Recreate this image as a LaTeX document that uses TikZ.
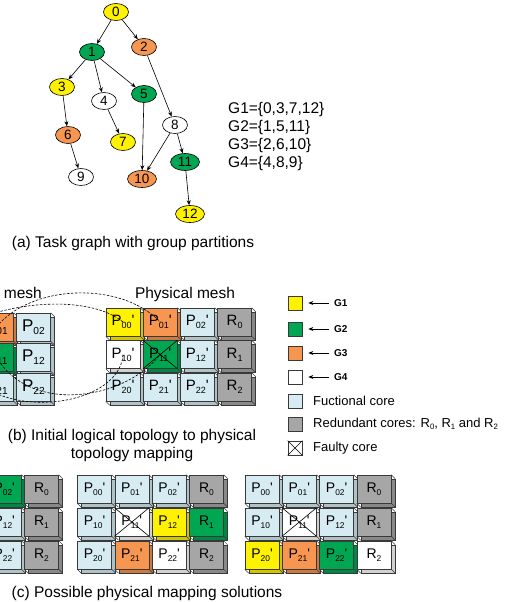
\documentclass[tikz,border=0pt]{standalone}
\usepackage{fontspec}
\setmainfont{Liberation Sans}
\usepackage{graphicx}
\usetikzlibrary{shapes.geometric,arrows.meta}

\definecolor{cyellow}{RGB}{255,242,0}
\definecolor{cgreen}{RGB}{0,166,81}
\definecolor{corange}{RGB}{247,150,80}
\definecolor{cblue}{RGB}{214,236,242}
\definecolor{cgray}{RGB}{166,166,166}

% small lowered index, as in P_00
\newcommand{\lsub}[1]{\raisebox{-0.35ex}{\scalebox{0.6}{#1}}}
% one core block: [text style]{name}{x}{y}{fill}{label}
\newcommand{\core}[6][]{%
  \node[coreback, fill=#5!82!black] (#2-b) at (#3+4,#4+4) {};
  \draw[coreedge] (#2-b.north east) -- ++(-4,-4)
                  (#2-b.south east) -- ++(-4,-4)
                  (#2-b.south west) -- ++(-4,-4);
  \node[corebox, fill=#5, #1] (#2) at (#3,#4) {#6};}
\newcommand{\faulty}[1]{%
  \draw[crossline] (#1.north west) -- (#1.south east)
                   (#1.north east) -- (#1.south west);}

\begin{document}
\begin{tikzpicture}[x=1pt, y=-1pt, >={Stealth[length=5pt,width=4pt]},
    task/.style={ellipse, draw, line width=0.6pt, minimum width=25pt,
      minimum height=17pt, inner sep=0pt, font=\fontsize{13.5}{13.5}\selectfont},
    twowide/.style={minimum width=29pt},
    corebox/.style={rectangle, draw=gray!45!black, line width=0.5pt,
      minimum width=34pt, minimum height=28pt, inner sep=0pt},
    coreback/.style={corebox},
    coreedge/.style={draw=gray!45!black, line width=0.5pt},
    crossline/.style={line width=0.6pt},
    logtext/.style={font=\fontsize{17}{17}\selectfont},
    phytext/.style={font=\fontsize{15}{15}\selectfont},
    soltext/.style={font=\fontsize{14}{14}\selectfont},
    mapline/.style={dashed, line width=0.6pt, dash pattern=on 2.5pt off 1.5pt},
    legbox/.style={rectangle, draw=gray!45!black, line width=0.6pt,
      minimum size=14pt, inner sep=0pt},
    keylabel/.style={anchor=west, inner sep=1pt, font=\fontsize{10}{10}\selectfont\bfseries},
    keyarrow/.style={->, line width=0.6pt, shorten <=4pt, shorten >=6pt},
    legtext/.style={anchor=west, inner sep=2pt, font=\fontsize{13}{13}\selectfont},
    captext/.style={align=center, font=\fontsize{15.5}{18}\selectfont}]

  \useasboundingbox (0,0) rectangle (504,602);
  \clip (0,0) rectangle (504,602);

  %===== a) Task graph =====%
  \node[task, fill=cyellow] (t0) at (116,12) {0};
  \node[task, fill=cgreen] (t1) at (92,52) {1};
  \node[task, fill=corange] (t2) at (144,47) {2};
  \node[task, fill=cyellow] (t3) at (62,87) {3};
  \node[task, fill=white] (t4) at (104,101) {4};
  \node[task, fill=cgreen] (t5) at (144,94) {5};
  \node[task, fill=corange] (t6) at (68,135) {6};
  \node[task, fill=cyellow] (t7) at (123,142) {7};
  \node[task, fill=white] (t8) at (175,125) {8};
  \node[task, fill=white] (t9) at (81,177) {9};
  \node[task, twowide, fill=corange] (t10) at (142,179) {10};
  \node[task, twowide, fill=cgreen] (t11) at (185,162) {11};
  \node[task, twowide, fill=cyellow] (t12) at (190,214) {12};

  \draw[->, line width=0.6pt] (t0) -- (t1);
  \draw[->, line width=0.6pt] (t0) -- (t2);
  \draw[->, line width=0.6pt] (t1) -- (t3);
  \draw[->, line width=0.6pt] (t1) -- (t4);
  \draw[->, line width=0.6pt] (t1) -- (t5);
  \draw[->, line width=0.6pt] (t2) -- (t8);
  \draw[->, line width=0.6pt] (t3) -- (t6);
  \draw[->, line width=0.6pt] (t4) -- (t7);
  \draw[->, line width=0.6pt] (t5) -- (t10);
  \draw[->, line width=0.6pt] (t6) -- (t9);
  \draw[->, line width=0.6pt] (t8) -- (t10);
  \draw[->, line width=0.6pt] (t8) -- (t11);
  \draw[->, line width=0.6pt] (t11) -- (t12);

  % group partitions
  \node[legtext, font=\fontsize{15.5}{15.5}\selectfont] (g1) at (226,109) {G1=\{0,3,7,12\}};
  \node[legtext, font=\fontsize{15.5}{15.5}\selectfont] (g2) at (226,127) {G2=\{1,5,11\}};
  \node[legtext, font=\fontsize{15.5}{15.5}\selectfont] (g3) at (226,145) {G3=\{2,6,10\}};
  \node[legtext, font=\fontsize{15.5}{15.5}\selectfont] (g4) at (226,163) {G4=\{4,8,9\}};

  \node[captext] (capa) at (133,243) {(a) Task graph with group partitions};

  %===== b) Logical mesh =====%
  \node[captext, anchor=east, inner sep=0pt] (logname) at (42,294) {Logical mesh};
  \begin{scope}[shift={(-40.5,327)}]
    \core[logtext]{lg00}{0}{0}{cyellow}{P\lsub{00}}
    \core[logtext]{lg01}{37}{0}{corange}{P\lsub{01}}
    \core[logtext]{lg02}{74}{0}{cblue}{P\lsub{02}}
    \core[logtext]{lg10}{0}{30}{white}{P\lsub{10}}
    \core[logtext]{lg11}{37}{30}{cgreen}{P\lsub{11}}
    \core[logtext]{lg12}{74}{30}{cblue}{P\lsub{12}}
    \core[logtext]{lg20}{0}{60}{cblue}{P\lsub{20}}
    \core[logtext]{lg21}{37}{60}{cblue}{P\lsub{21}}
    \core[logtext]{lg22}{74}{60}{cblue}{P\lsub{22}}
  \end{scope}

  %===== b) Physical mesh =====%
  \node[captext] (phyname) at (185,294) {Physical mesh};
  \begin{scope}[shift={(123,322)}]
    \core[phytext]{ph00}{0}{0}{cyellow}{P\lsub{00}\textquotesingle}
    \core[phytext]{ph01}{37.2}{0}{corange}{P\lsub{01}\textquotesingle}
    \core[phytext]{ph02}{74.4}{0}{cblue}{P\lsub{02}\textquotesingle}
    \core[phytext]{phR0}{111.6}{0}{cgray}{R\lsub{0}}
    \core[phytext]{ph10}{0}{32.5}{white}{P\lsub{10}\textquotesingle}
    \core[phytext]{ph11}{37.2}{32.5}{cgreen}{P\lsub{11}\textquotesingle}
    \core[phytext]{ph12}{74.4}{32.5}{cblue}{P\lsub{12}\textquotesingle}
    \core[phytext]{phR1}{111.6}{32.5}{cgray}{R\lsub{1}}
    \core[phytext]{ph20}{0}{65}{cblue}{P\lsub{20}\textquotesingle}
    \core[phytext]{ph21}{37.2}{65}{cblue}{P\lsub{21}\textquotesingle}
    \core[phytext]{ph22}{74.4}{65}{cblue}{P\lsub{22}\textquotesingle}
    \core[phytext]{phR2}{111.6}{65}{cgray}{R\lsub{2}}
  \end{scope}
  \faulty{ph11}

  % logical to physical mapping
  \draw[mapline] (lg00.center) .. controls (10,300) and (90,295) .. (ph00.center);
  \draw[mapline] (lg01.center) .. controls (30,285) and (120,280) .. (ph01.center);
  \draw[mapline] (lg10.center) .. controls (-15,425) and (120,410) .. (ph10.center);
  \draw[mapline] (lg11.center) .. controls (30,415) and (125,400) .. (ph11.center);

  \node[captext] (capb) at (132,445) {(b) Initial logical topology to physical\\topology mapping};

  %===== Legend =====%
  \node[legbox, fill=cyellow] (key1) at (295,303) {};
  \node[keylabel] (key1-t) at (333,303) {G1};
  \draw[keyarrow] (key1-t.west) -- (key1.east);
  \node[legbox, fill=cgreen] (key2) at (295,329) {};
  \node[keylabel] (key2-t) at (333,329) {G2};
  \draw[keyarrow] (key2-t.west) -- (key2.east);
  \node[legbox, fill=corange] (key3) at (295,353) {};
  \node[keylabel] (key3-t) at (333,353) {G3};
  \draw[keyarrow] (key3-t.west) -- (key3.east);
  \node[legbox, fill=white] (key4) at (295,377) {};
  \node[keylabel] (key4-t) at (333,377) {G4};
  \draw[keyarrow] (key4-t.west) -- (key4.east);
  \node[legbox, fill=cblue] (key5) at (295,401) {};
  \node[legtext] (key5-t) at (311,401) {Fuctional core};
  \node[legbox, fill=cgray] (key6) at (295,424) {};
  \node[legtext] (key6-t) at (311,424) {Redundant cores: R\lsub{0}, R\lsub{1} and R\lsub{2}};
  \node[legbox, fill=white] (key7) at (295,448) {};
  \faulty{key7}
  \node[legtext] (key7-t) at (311,448) {Faulty core};

  %===== c) Mapping solutions =====%
  \begin{scope}[shift={(-70.4,489)}]
    \core[soltext]{sa00}{0}{0}{cblue}{P\lsub{00}\textquotesingle}
    \core[soltext]{sa01}{37.3}{0}{cblue}{P\lsub{01}\textquotesingle}
    \core[soltext]{sa02}{74.6}{0}{cgreen}{P\lsub{02}\textquotesingle}
    \core[soltext]{saR0}{111.9}{0}{cgray}{R\lsub{0}}
    \core[soltext]{sa10}{0}{33}{cblue}{P\lsub{10}\textquotesingle}
    \core[soltext]{sa11}{37.3}{33}{white}{P\lsub{11}\textquotesingle}
    \core[soltext]{sa12}{74.6}{33}{cblue}{P\lsub{12}\textquotesingle}
    \core[soltext]{saR1}{111.9}{33}{cgray}{R\lsub{1}}
    \core[soltext]{sa20}{0}{66}{cblue}{P\lsub{20}\textquotesingle}
    \core[soltext]{sa21}{37.3}{66}{cblue}{P\lsub{21}\textquotesingle}
    \core[soltext]{sa22}{74.6}{66}{cblue}{P\lsub{22}\textquotesingle}
    \core[soltext]{saR2}{111.9}{66}{cgray}{R\lsub{2}}
  \end{scope}
  \faulty{sa11}

  \begin{scope}[shift={(94.5,489)}]
    \core[soltext]{sb00}{0}{0}{cblue}{P\lsub{00}\textquotesingle}
    \core[soltext]{sb01}{37.3}{0}{cblue}{P\lsub{01}\textquotesingle}
    \core[soltext]{sb02}{74.6}{0}{cblue}{P\lsub{02}\textquotesingle}
    \core[soltext]{sbR0}{111.9}{0}{cgray}{R\lsub{0}}
    \core[soltext]{sb10}{0}{33}{cblue}{P\lsub{10}\textquotesingle}
    \core[soltext]{sb11}{37.3}{33}{white}{P\lsub{11}\textquotesingle}
    \core[soltext]{sb12}{74.6}{33}{cyellow}{P\lsub{12}\textquotesingle}
    \core[soltext]{sbR1}{111.9}{33}{cgreen}{R\lsub{1}}
    \core[soltext]{sb20}{0}{66}{cblue}{P\lsub{20}\textquotesingle}
    \core[soltext]{sb21}{37.3}{66}{corange}{P\lsub{21}\textquotesingle}
    \core[soltext]{sb22}{74.6}{66}{white}{P\lsub{22}\textquotesingle}
    \core[soltext]{sbR2}{111.9}{66}{cgray}{R\lsub{2}}
  \end{scope}
  \faulty{sb11}

  \begin{scope}[shift={(262,489)}]
    \core[soltext]{sc00}{0}{0}{cblue}{P\lsub{00}\textquotesingle}
    \core[soltext]{sc01}{37.3}{0}{cblue}{P\lsub{01}\textquotesingle}
    \core[soltext]{sc02}{74.6}{0}{cblue}{P\lsub{02}\textquotesingle}
    \core[soltext]{scR0}{111.9}{0}{cgray}{R\lsub{0}}
    \core[soltext]{sc10}{0}{33}{cblue}{P\lsub{10}\textquotesingle}
    \core[soltext]{sc11}{37.3}{33}{white}{P\lsub{11}\textquotesingle}
    \core[soltext]{sc12}{74.6}{33}{cblue}{P\lsub{12}\textquotesingle}
    \core[soltext]{scR1}{111.9}{33}{cgray}{R\lsub{1}}
    \core[soltext]{sc20}{0}{66}{cyellow}{P\lsub{20}\textquotesingle}
    \core[soltext]{sc21}{37.3}{66}{corange}{P\lsub{21}\textquotesingle}
    \core[soltext]{sc22}{74.6}{66}{cgreen}{P\lsub{22}\textquotesingle}
    \core[soltext]{scR2}{111.9}{66}{white}{R\lsub{2}}
  \end{scope}
  \faulty{sc11}

  \node[captext] (capc) at (147,593) {(c) Possible physical mapping solutions};
\end{tikzpicture}
\end{document}
